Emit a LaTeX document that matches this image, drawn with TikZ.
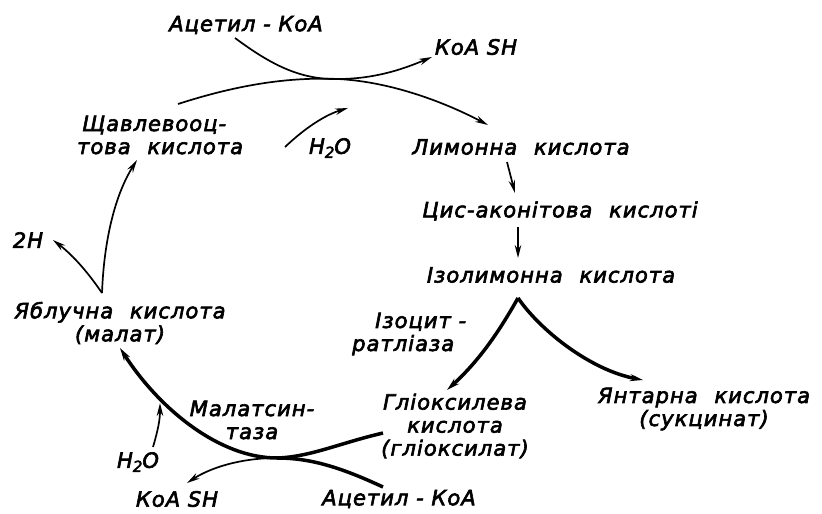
\documentclass[tikz,border=0pt]{standalone}
\usepackage{fontspec}
\setmainfont{DejaVu Sans}[LetterSpace=5, FakeBold=3]
\usetikzlibrary{arrows.meta}
\tikzset{
  lbl/.style={inner sep=0pt, font=\fontsize{21}{23}\selectfont\itshape},
  thin/.style={line width=1.7pt, -{Stealth[length=13pt,width=6.5pt]}},
  thick/.style={line width=3.5pt, -{Stealth[length=13pt,width=7pt]}},
  thickno/.style={line width=3.5pt},
}
\newcommand{\wsub}[1]{\raisebox{-4pt}{\fontsize{15}{15}\selectfont #1}}
\newcommand{\gap}{\hspace{0.8em}}
\begin{document}
\begin{tikzpicture}[x=1pt,y=-1pt]
\useasboundingbox (0,0) rectangle (822,514);
% texts
\node[lbl] (acTop) at (246,25) {Ацетил - КоА};
\node[lbl] (koaTop) at (476,47) {КоА SH};
\node[lbl, align=left, anchor=west] (oxal) at (77,135) {\hspace{5pt}Щавлевооц-\\това\gap кислота};
\node[lbl] (h2oTop) at (330,148) {H\wsub{2}O};
\node[lbl] (citr) at (521,147) {Лимонна\gap кислота};
\node[lbl] (cis) at (560,211) {Цис-аконітова\gap кислоті};
\node[lbl] (iso) at (551,275) {Ізолимонна\gap кислота};
\node[lbl] (twoH) at (28,240) {2Н};
\node[lbl, align=center] (mal) at (120,323) {Яблучна\gap кислота\\(малат)};
\node[lbl, align=left, anchor=west] (lyase) at (352,334) {\hspace{23pt}Ізоцит -\\ратліаза};
\node[lbl, align=center] (glyox) at (455,426) {Гліоксилева\\кислота\\(гліоксилат)};
\node[lbl, align=center] (succ) at (704,409) {Янтарна\gap кислота\\(сукцинат)};
\node[lbl, align=center] (malsyn) at (252,420) {Малатсин-\\таза};
\node[lbl] (h2oBot) at (138,462) {H\wsub{2}O};
\node[lbl] (koaBot) at (177,499) {КоА SH};
\node[lbl] (acBot) at (399,499) {Ацетил - КоА};
% connector end points
\coordinate (oxS) at (178,104);
\coordinate (xTop) at (338,79);
\coordinate (citE) at (488,125);
\coordinate (acS) at (235,38);
\coordinate (koaE) at (432,57);
\coordinate (h2S) at (285,147);
\coordinate (h2E) at (348,108);
\coordinate (citS) at (507,162);
\coordinate (cisE) at (515,193);
\coordinate (cisS) at (518,227);
\coordinate (isoE) at (518,258);
\coordinate (isoP) at (518,298);
\coordinate (glyE) at (447,390);
\coordinate (sucE) at (643,380);
\coordinate (glyS) at (383,433);
\coordinate (xBot) at (277,458);
\coordinate (malE) at (120,348);
\coordinate (acbS) at (383,487);
\coordinate (koabE) at (187,483);
\coordinate (h2bS) at (153,447);
\coordinate (h2bE) at (160,403);
\coordinate (malP) at (102,293);
\coordinate (oxE) at (137,160);
\coordinate (twoHE) at (53,240);
% top
\draw[thin] (oxS) .. controls (240,84) and (290,77) .. (xTop) .. controls (395,82) and (450,105) .. (citE);
\draw[thin] (acS) .. controls (270,64) and (300,80) .. (xTop) .. controls (378,79) and (408,67) .. (koaE);
\draw[thin] (h2S) .. controls (305,128) and (325,115) .. (h2E);
% right column
\draw[thin] (citS) -- (cisE);
\draw[thin] (cisS) -- (isoE);
\draw[thick] (isoP) .. controls (500,330) and (480,360) .. (glyE);
\draw[thick] (isoP) .. controls (540,330) and (590,370) .. (sucE);
% bottom
\draw[thick] (glyS) .. controls (340,443) and (310,457) .. (xBot) .. controls (220,458) and (160,410) .. (malE);
\draw[thickno] (acbS) .. controls (340,467) and (310,458) .. (xBot);
\draw[thin] (xBot) .. controls (240,458) and (210,468) .. (koabE);
\draw[thin] (h2bS) .. controls (158,430) and (160,420) .. (h2bE);
% left
\draw[thin] (malP) .. controls (104,240) and (115,195) .. (oxE);
\draw[thin] (malP) .. controls (85,268) and (70,253) .. (twoHE);
\end{tikzpicture}
\end{document}
